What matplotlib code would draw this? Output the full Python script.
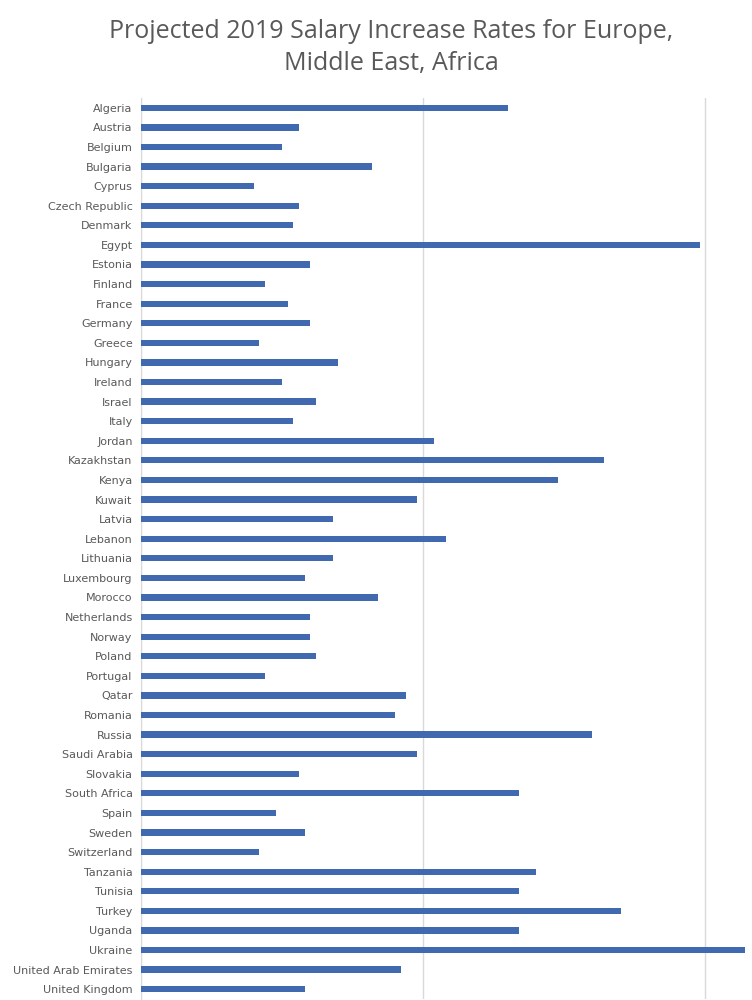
import matplotlib.pyplot as plt
import numpy as np

countries = ['Algeria', 'Austria', 'Belgium', 'Bulgaria', 'Cyprus', 'Czech Republic',
             'Denmark', 'Egypt', 'Estonia', 'Finland', 'France', 'Germany', 'Greece',
             'Hungary', 'Ireland', 'Israel', 'Italy', 'Jordan', 'Kazakhstan', 'Kenya',
             'Kuwait', 'Latvia', 'Lebanon', 'Lithuania', 'Luxembourg', 'Morocco',
             'Netherlands', 'Norway', 'Poland', 'Portugal', 'Qatar', 'Romania', 'Russia',
             'Saudi Arabia', 'Slovakia', 'South Africa', 'Spain', 'Sweden', 'Switzerland',
             'Tanzania', 'Tunisia', 'Turkey', 'Uganda', 'Ukraine', 'United Arab Emirates',
             'United Kingdom']
# projected increase, %
rates = [6.5, 2.8, 2.5, 4.1, 2.0, 2.8,
         2.7, 9.9, 3.0, 2.2, 2.6, 3.0, 2.1,
         3.5, 2.5, 3.1, 2.7, 5.2, 8.2, 7.4,
         4.9, 3.4, 5.4, 3.4, 2.9, 4.2,
         3.0, 3.0, 3.1, 2.2, 4.7, 4.5, 8.0,
         4.9, 2.8, 6.7, 2.4, 2.9, 2.1,
         7.0, 6.7, 8.5, 6.7, 10.7, 4.6,
         2.9]

txt = '#595959'

fig = plt.figure(figsize=(7.52, 10), dpi=100)
ax = fig.add_axes([141 / 752, 0.001, 1 - 141 / 752, 0.901])

y = np.arange(len(countries))
ax.barh(y, rates, height=0.32, color='#4169B0', zorder=3)

ax.set_yticks(y)
ax.set_yticklabels(countries, fontsize=8, color=txt,
                   family=['Liberation Sans Narrow', 'DejaVu Sans'])
ax.set_ylim(len(countries) - 0.5, -0.5)
ax.set_xlim(0, 10.83)
ax.set_xticks([0, 5, 10])
ax.xaxis.grid(True, color='#D9D9D9', linewidth=1, zorder=0)
ax.tick_params(axis='both', length=0, pad=6)
ax.tick_params(axis='x', labelbottom=False)

for s in ['top', 'right', 'bottom']:
    ax.spines[s].set_visible(False)
ax.spines['left'].set_color('#D9D9D9')

fig.text(0.52, 0.981, 'Projected 2019 Salary Increase Rates for Europe,\nMiddle East, Africa',
         ha='center', va='top', fontsize=18, color=txt, linespacing=1.36,
         family=['Open Sans', 'DejaVu Sans'])

plt.savefig('out.png', dpi=100)
